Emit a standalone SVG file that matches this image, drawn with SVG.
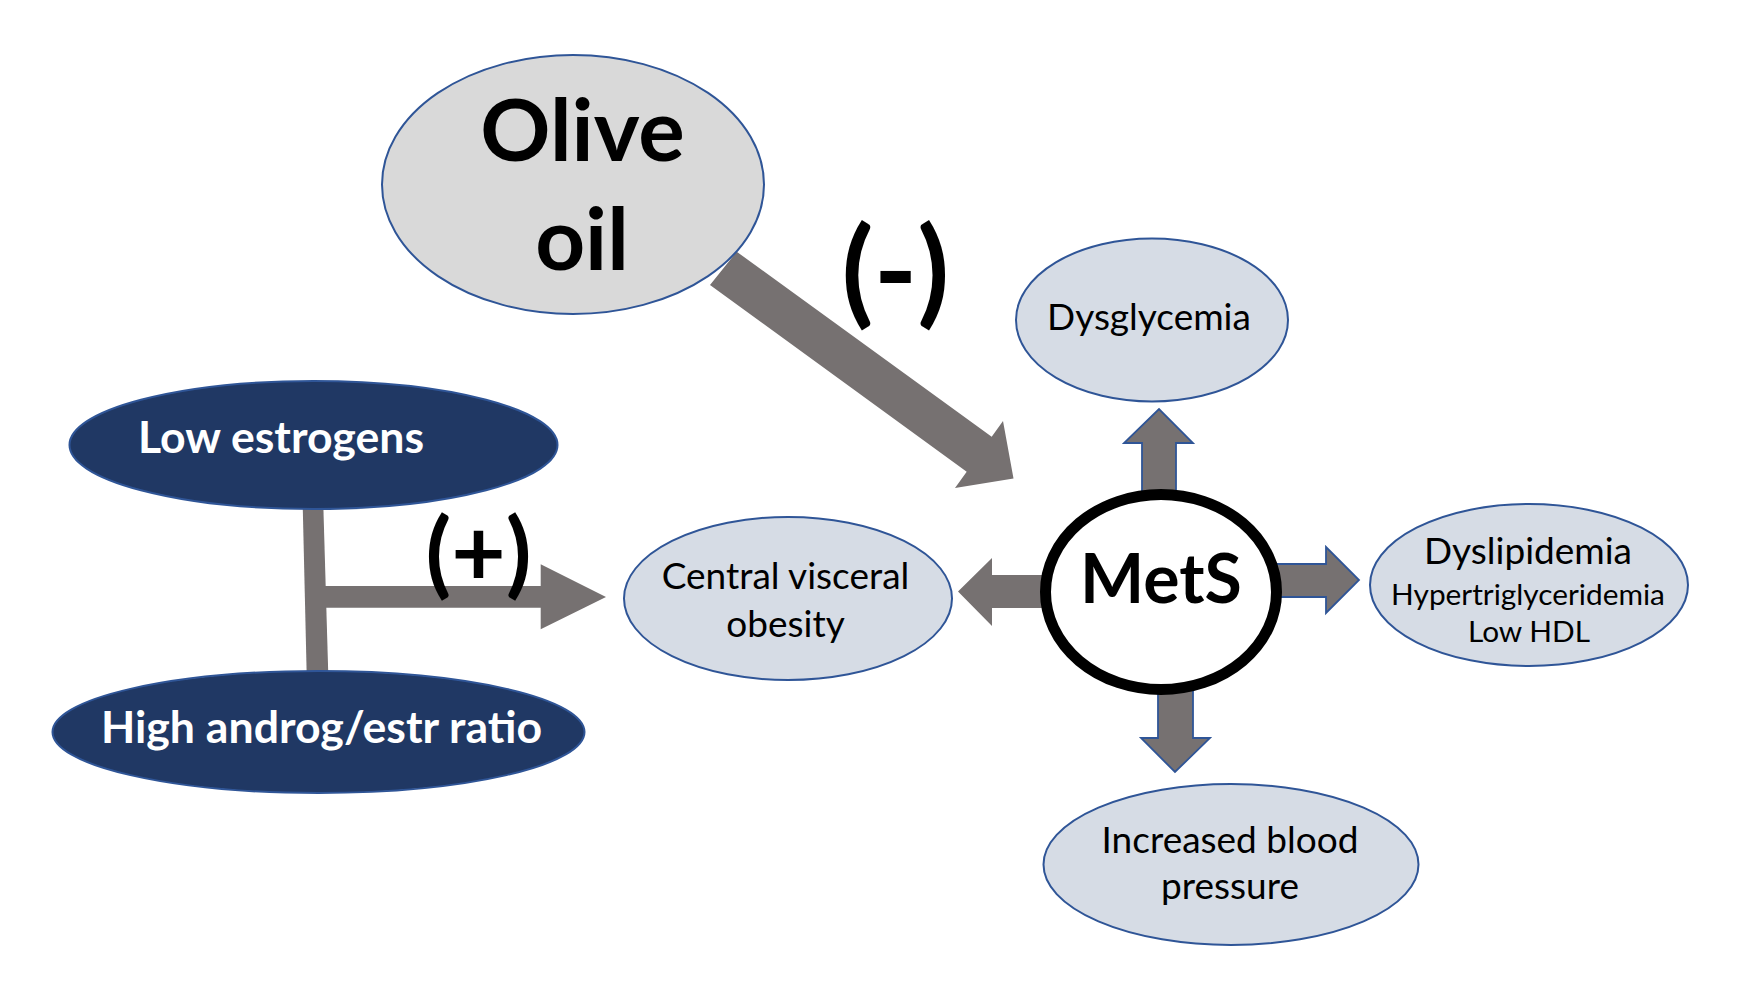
<svg xmlns="http://www.w3.org/2000/svg" width="1737" height="994" viewBox="0 0 1737 994">
<style>
.light{fill:#D6DCE5;stroke:#2F5597;stroke-width:2}
.olive{fill:#D9D9D9;stroke:#2F5597;stroke-width:2}
.dark{fill:#203864;stroke:#2F5597;stroke-width:2}
.arr{fill:#767171}
.arrb{fill:#767171;stroke:#2F5597;stroke-width:1.8}
.t{font-family:Lato,"Liberation Sans",sans-serif;font-size:37px;fill:#000;text-anchor:middle}
.s{font-size:29.8px}
.tb{font-family:Lato,"Liberation Sans",sans-serif;font-weight:bold;text-anchor:middle}
.w{fill:#fff;font-size:44.6px}
</style>
<rect width="1737" height="994" fill="#fff"/>
<g id="connectors">
<polygon class="arr" points="736.7,251.7 991.7,436.7 1003,421 1013.5,478.5 955,488 966.7,471.7 710,285"/>
<polygon class="arr" points="302.7,505 323.3,505 328.3,675 306.7,675"/>
<polygon class="arr" points="322,586 540.7,586 540.7,564.3 606,597 540.7,629.3 540.7,607.7 322,607.7"/>
<polygon class="arr" points="1045,575 992,575 992,558 958,591.5 992,626 992,608 1045,608"/>
<polygon class="arrb" points="1142,492 1142,443 1124,443 1159,409 1193,443 1176,443 1176,492"/>
<polygon class="arrb" points="1275,564 1326,564 1326,547 1359,580 1326,613 1326,597 1275,597"/>
<polygon class="arrb" points="1158,690 1193,690 1193,738 1210,738 1175,772 1141,738 1158,738"/>
<text class="tb" x="895.5" y="311.5" font-size="117">(-)</text>
<text class="tb" x="478.5" y="585.5" font-size="94">(+)</text>
</g>
<g id="olive-oil">
<ellipse class="olive" cx="573" cy="184.5" rx="191" ry="129.5"/>
<text class="tb" x="582.5" y="161" font-size="87">Olive</text>
<text class="tb" x="582" y="270" font-size="87">oil</text>
</g>
<g id="low-estrogens">
<ellipse class="dark" cx="313.5" cy="445" rx="244" ry="64"/>
<text class="tb w" x="281" y="453">Low estrogens</text>
</g>
<g id="high-androg">
<ellipse class="dark" cx="318.5" cy="732" rx="266" ry="61"/>
<text class="tb w" x="321.5" y="743">High androg/estr ratio</text>
</g>
<g id="central-obesity">
<ellipse class="light" cx="788" cy="598.5" rx="164" ry="81.5"/>
<text class="t" x="785.5" y="589">Central visceral</text>
<text class="t" x="785.5" y="637">obesity</text>
</g>
<g id="mets">
<ellipse cx="1161" cy="592" rx="115.5" ry="97.5" fill="#fff" stroke="#000" stroke-width="11"/>
<text class="tb" x="1161" y="603" font-size="68">MetS</text>
</g>
<g id="dysglycemia">
<ellipse class="light" cx="1152" cy="320" rx="136" ry="81.5"/>
<text class="t" x="1149" y="330">Dysglycemia</text>
</g>
<g id="dyslipidemia">
<ellipse class="light" cx="1529" cy="585" rx="159" ry="81"/>
<text class="t" x="1528" y="564">Dyslipidemia</text>
<text class="t s" x="1528" y="605">Hypertriglyceridemia</text>
<text class="t s" x="1529" y="642">Low HDL</text>
</g>
<g id="blood-pressure">
<ellipse class="light" cx="1231" cy="864.5" rx="187.5" ry="80.5"/>
<text class="t" x="1230" y="853">Increased blood</text>
<text class="t" x="1230" y="899">pressure</text>
</g>
</svg>
